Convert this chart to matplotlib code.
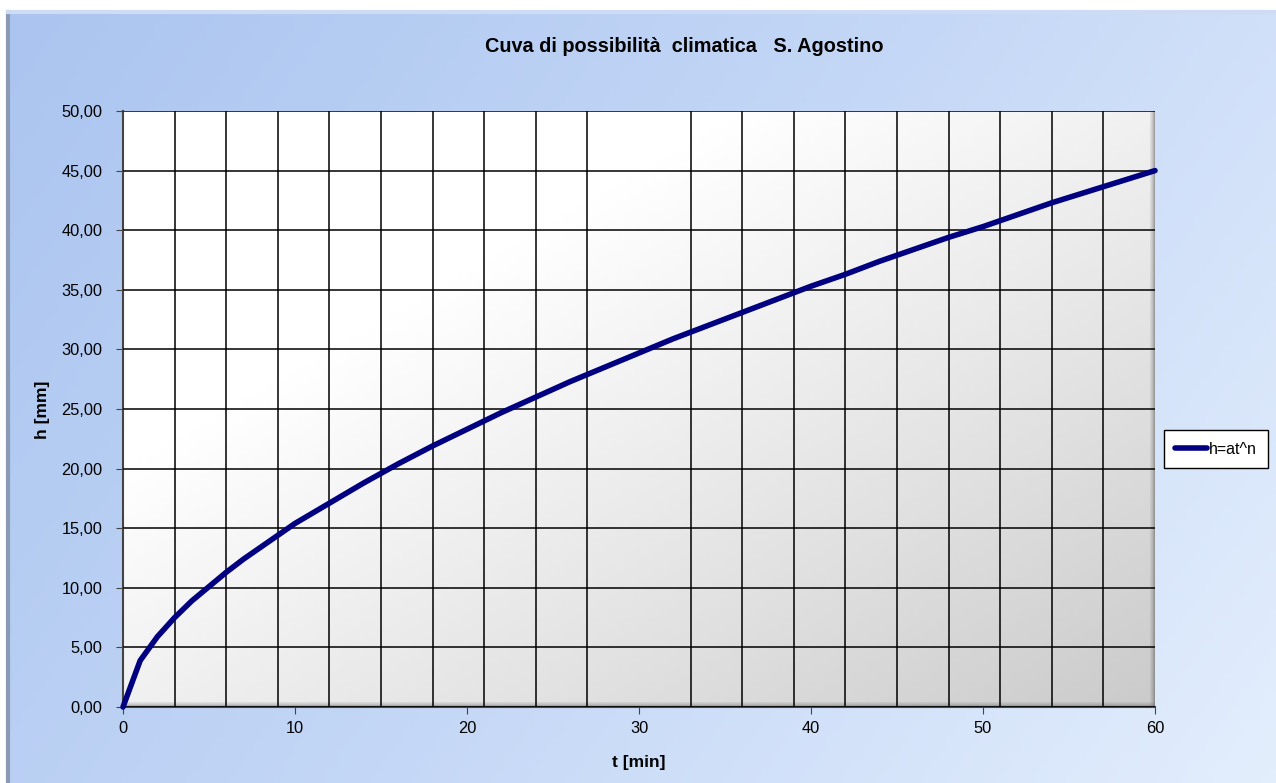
import numpy as np
import matplotlib.pyplot as plt
from matplotlib.colors import LinearSegmentedColormap

# h = a t^n readings from the chart
t_min = [0, 1, 2, 3, 4, 5, 6, 7, 8, 9, 10, 12, 14, 16, 18, 20, 22, 24, 26, 28, 30,
         32, 34, 36, 38, 40, 42, 44, 46, 48, 50, 52, 54, 56, 58, 60]
h_mm = [0, 3.9, 5.9, 7.5, 8.9, 10.1, 11.3, 12.4, 13.4, 14.4, 15.4, 17.1, 18.8, 20.4, 21.9,
        23.3, 24.7, 26.0, 27.3, 28.5, 29.7, 30.9, 32.0, 33.1, 34.2, 35.3, 36.3, 37.4,
        38.4, 39.4, 40.3, 41.3, 42.3, 43.2, 44.1, 45.0]
x_ticks = [0, 10, 20, 30, 40, 50, 60]
y_ticks = [0, 5, 10, 15, 20, 25, 30, 35, 40, 45, 50]

plt.rcParams['font.family'] = ['Liberation Sans', 'DejaVu Sans']

W, H = 1276, 783
fig = plt.figure(figsize=(W / 100, H / 100), dpi=100)
fig.patch.set_facecolor('white')

# chart area background (blue gradient)
bg = fig.add_axes([8 / W, 0, 1 - 8 / W, 1 - 12 / H], zorder=-10)
gx, gy = np.meshgrid(np.linspace(0, 1, 200), np.linspace(0, 1, 120))
blue = LinearSegmentedColormap.from_list('b', ['#abc5f0', '#c4d7f6', '#e3eefd'])
bg.imshow(0.7 * gx + 0.3 * gy, cmap=blue, aspect='auto', extent=[0, 1, 0, 1], origin='upper')
bg.set_xlim(0, 1)
bg.set_ylim(0, 1)
for s in bg.spines.values():
    s.set_visible(False)
bg.spines['left'].set_visible(True)
bg.spines['left'].set_color('#8a9ab5')
bg.spines['left'].set_linewidth(3)
bg.spines['top'].set_visible(True)
bg.spines['top'].set_color('#cddcf4')
bg.spines['top'].set_linewidth(3)
bg.set_xticks([])
bg.set_yticks([])

ax = fig.add_axes([123 / W, 1 - 707 / H, (1155 - 123) / W, (707 - 111) / H])
ax.set_xlim(0, 60)
ax.set_ylim(0, 50)

# plot area gradient, white top-left to grey bottom-right
grey = LinearSegmentedColormap.from_list('g', [(0, '#ffffff'), (0.3, '#ffffff'),
                                               (0.7, '#e2e2e2'), (1, '#cbcbcb')])
ax.imshow(0.5 * gx + 0.5 * gy, cmap=grey, aspect='auto', extent=[0, 60, 0, 50],
          origin='upper', zorder=0, vmin=0, vmax=1)
# bevel shadows on right and bottom edges
px, py = 60 / 1032, 50 / 596
for i, a in enumerate([0.12, 0.2, 0.3, 0.45, 0.6]):
    ax.axvspan(60 - (5 - i) * px, 60 - (4 - i) * px, ymin=0, ymax=1, color='#6a6a6a',
               alpha=a, lw=0, zorder=1)
    ax.axhspan((4 - i) * py, (5 - i) * py, xmin=0, xmax=1, color='#6a6a6a',
               alpha=a, lw=0, zorder=1)

ax.set_xticks(x_ticks)
ax.set_xticks(np.arange(0, 61, 3), minor=True)
ax.set_yticks(y_ticks)
ax.set_yticklabels([f'{v:.2f}'.replace('.', ',') for v in y_ticks])
ax.grid(which='minor', axis='x', color='black', lw=1.1, zorder=2)
ax.grid(which='major', axis='y', color='black', lw=1.1, zorder=2)
ax.set_axisbelow(False)
ax.tick_params(which='minor', length=0)
ax.tick_params(which='major', length=5, color='#444444', labelsize=11.8, direction='out')
ax.tick_params(axis='y', pad=10)
ax.tick_params(axis='x', pad=5)

for name in ['top', 'right']:
    ax.spines[name].set_visible(False)
for name in ['left', 'bottom']:
    ax.spines[name].set_color('#444444')
    ax.spines[name].set_linewidth(1.5)

line, = ax.plot(t_min, h_mm, color='#000080', lw=4, solid_capstyle='round',
                solid_joinstyle='round', zorder=5, label='h=at^n', clip_on=False)

fig.text(684 / W, 1 - 47 / H, 'Cuva di possibilità  climatica   S. Agostino', ha='center',
         va='center', fontsize=14.3, fontweight='bold')
fig.text(639 / W, 1 - 763 / H, 't [min]', ha='center', va='center', fontsize=12.5,
         fontweight='bold')
fig.text(42 / W, 1 - 410 / H, 'h [mm]', ha='center', va='center', rotation=90,
         fontsize=12.5, fontweight='bold')

leg = fig.legend(handles=[line], loc='center left', bbox_to_anchor=(1164 / W, 1 - 449 / H),
                 fontsize=11.5, frameon=True, fancybox=False, handlelength=2.0,
                 handletextpad=0.1, borderpad=0.7, borderaxespad=0)
leg.get_frame().set_edgecolor('black')
leg.get_frame().set_linewidth(1)
leg.get_frame().set_facecolor('white')
leg.get_frame().set_alpha(1)

fig.savefig('out.png', dpi=100)
